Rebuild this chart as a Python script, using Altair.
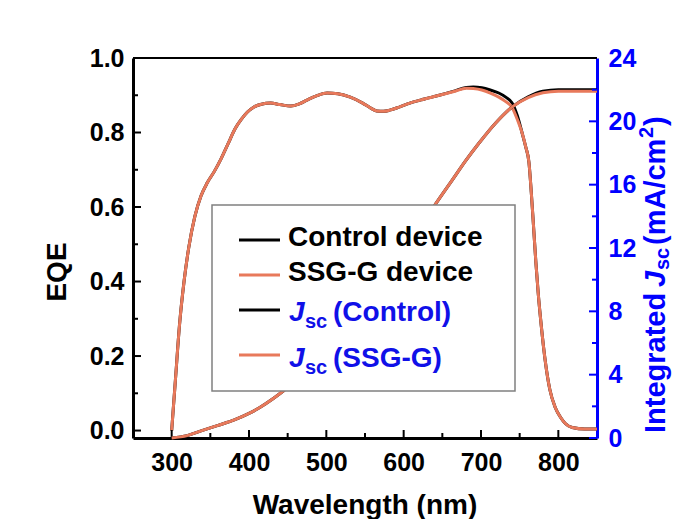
import altair as alt
import pandas as pd

FONT = "Liberation Sans"
ORANGE = "#E8795B"
BLUE = "#0000FF"
TBLUE = "#1010E8"
W, H = 464, 380

# ---- EQE data (left axis) ----
wl_eqe = [300, 305, 310, 316, 322, 330, 338, 346, 355, 364, 373, 382, 390, 398, 406,
          416, 428, 440, 454, 465, 475, 488, 501, 515, 531, 547, 557, 565, 574, 582,
          595, 608, 627, 646, 665, 681, 690, 701, 712, 723, 732, 740, 747, 753, 758,
          762, 765, 768, 771, 774, 778, 783, 789, 796, 803, 809, 818, 834, 850]
eqe_ssg = [0.0, 0.14, 0.28, 0.40, 0.49, 0.575, 0.63, 0.665, 0.695, 0.73, 0.77, 0.81, 0.835, 0.855, 0.868,
           0.876, 0.879, 0.875, 0.871, 0.877, 0.887, 0.899, 0.906, 0.904, 0.895, 0.879, 0.866, 0.858, 0.857, 0.860,
           0.869, 0.879, 0.890, 0.900, 0.910, 0.919, 0.918, 0.914, 0.906, 0.895, 0.883, 0.868, 0.835, 0.800, 0.760,
           0.720, 0.640, 0.546, 0.450, 0.368, 0.280, 0.188, 0.110, 0.062, 0.035, 0.019, 0.008, 0.004, 0.004]
eqe_ctrl = [0.0, 0.14, 0.28, 0.40, 0.49, 0.575, 0.63, 0.665, 0.695, 0.73, 0.77, 0.81, 0.835, 0.855, 0.868,
            0.876, 0.879, 0.875, 0.871, 0.877, 0.887, 0.899, 0.906, 0.904, 0.895, 0.879, 0.866, 0.858, 0.857, 0.860,
            0.869, 0.879, 0.890, 0.900, 0.911, 0.921, 0.922, 0.920, 0.914, 0.906, 0.895, 0.880, 0.845, 0.800, 0.760,
            0.720, 0.640, 0.546, 0.450, 0.368, 0.280, 0.188, 0.110, 0.062, 0.035, 0.019, 0.008, 0.004, 0.004]

# ---- Integrated Jsc data (right axis) ----
wl_jsc = [300, 320, 338, 360, 381, 400, 415, 430, 445, 470, 500, 530, 560, 590, 620,
          642, 663, 680, 697, 719, 740, 761, 780, 800, 825, 850]
jsc_ssg = [0.0, 0.15, 0.45, 0.8, 1.14, 1.55, 1.96, 2.45, 3.0, 4.3, 6.0, 7.8, 9.6, 11.4, 13.3,
           14.84, 16.3, 17.5, 18.6, 19.9, 20.9, 21.5, 21.8, 21.9, 21.9, 21.9]
jsc_ctrl = [0.0, 0.15, 0.45, 0.8, 1.14, 1.55, 1.96, 2.45, 3.0, 4.3, 6.0, 7.8, 9.6, 11.4, 13.3,
            14.84, 16.3, 17.5, 18.6, 19.9, 20.9, 21.55, 21.9, 22.0, 22.0, 22.0]

x_major = [300, 400, 500, 600, 700, 800]
x_minor = [350, 450, 550, 650, 750]
eqe_major = [0.0, 0.2, 0.4, 0.6, 0.8, 1.0]
eqe_minor = [0.1, 0.3, 0.5, 0.7, 0.9]
j_major = [0, 4, 8, 12, 16, 20, 24]
j_minor = [2, 6, 10, 14, 18, 22]

xscale = alt.Scale(domain=[250, 850], nice=False, zero=False)
ylscale = alt.Scale(domain=[-0.02, 1.0], nice=False, zero=False)
yrscale = alt.Scale(domain=[0, 24], nice=False, zero=False)

lab = dict(labelFont=FONT, labelFontSize=25, labelFontWeight="bold", labelFlush=False,
           labelOverlap=False, labelBound=False, ticks=False, tickSize=0, grid=False, title=None,
           domainWidth=3)
x_axis = alt.Axis(values=x_major, labelColor="black", domainColor="black", labelPadding=12, **lab)
yl_axis = alt.Axis(values=eqe_major, format=".1f", labelColor="black", domainColor="black",
                   labelPadding=9, **lab)
yr_axis = alt.Axis(values=j_major, orient="right", labelColor=BLUE, domainColor=BLUE,
                   labelPadding=11, **lab)

def eqe_line(vals, color):
    df = pd.DataFrame({"wl": wl_eqe, "eqe": vals})
    return alt.Chart(df).mark_line(color=color, strokeWidth=3, interpolate="monotone").encode(
        x=alt.X("wl:Q", scale=xscale, axis=x_axis),
        y=alt.Y("eqe:Q", scale=ylscale, axis=yl_axis))

def jsc_line(vals, color):
    df = pd.DataFrame({"wl": wl_jsc, "j": vals})
    return alt.Chart(df).mark_line(color=color, strokeWidth=3, interpolate="monotone").encode(
        x=alt.X("wl:Q", scale=xscale, axis=x_axis),
        y=alt.Y("j:Q", scale=yrscale, axis=yr_axis))

def yticks(vals, scale, axis, x0, x1, color):
    return alt.Chart(pd.DataFrame({"v": vals})).mark_rule(color=color, strokeWidth=2).encode(
        y=alt.Y("v:Q", scale=scale, axis=axis), x=alt.value(x0), x2=alt.value(x1))

def xticks(vals, length):
    return alt.Chart(pd.DataFrame({"v": vals})).mark_rule(color="black", strokeWidth=2).encode(
        x=alt.X("v:Q", scale=xscale, axis=x_axis), y=alt.value(H), y2=alt.value(H - length))

left = alt.layer(
    eqe_line(eqe_ctrl, "black"),
    eqe_line(eqe_ssg, ORANGE),
    yticks(eqe_major, ylscale, yl_axis, 0, 8, "black"),
    yticks(eqe_minor, ylscale, yl_axis, 0, 5, "black"),
    xticks(x_major, 8),
    xticks(x_minor, 5),
)
right = alt.layer(
    jsc_line(jsc_ctrl, "black"),
    jsc_line(jsc_ssg, ORANGE),
    yticks(j_major, yrscale, yr_axis, W, W - 8, BLUE),
    yticks(j_minor, yrscale, yr_axis, W, W - 5, BLUE),
)

ANN = pd.DataFrame({"k": [0]})

def txt(s, x, y, size=28, color="black", italic=False, angle=0, align="left", baseline="alphabetic"):
    kw = dict(text=s, font=FONT, fontSize=size, fontWeight="bold", color=color,
              align=align, baseline=baseline)
    if italic:
        kw["fontStyle"] = "italic"
    if angle:
        kw["angle"] = angle
    return alt.Chart(ANN).mark_text(**kw).encode(x=alt.value(x), y=alt.value(y))

def hline(x0, x1, y, color, width=3):
    return alt.Chart(ANN).mark_rule(color=color, strokeWidth=width).encode(
        x=alt.value(x0), x2=alt.value(x1), y=alt.value(y))

TX = 532  # baseline of the rotated right-axis title
ann = [
    hline(0, W, 0, "black", 2),
    alt.Chart(ANN).mark_rect(fill="white", stroke="#808080", strokeWidth=1.5).encode(
        x=alt.value(79), x2=alt.value(382), y=alt.value(147), y2=alt.value(333)),
    hline(106, 147, 182, "black"),
    hline(106, 147, 217, ORANGE),
    hline(106, 147, 252, "black"),
    hline(106, 147, 297, ORANGE),
    txt("Control device", 155, 188),
    txt("SSG-G device", 155, 223),
    txt("J", 156, 263, color=TBLUE, italic=True),
    txt("sc", 172, 270, size=20, color=TBLUE),
    txt("(Control)", 200, 263, color=TBLUE),
    txt("J", 156, 309, color=TBLUE, italic=True),
    txt("sc", 172, 316, size=20, color=TBLUE),
    txt("(SSG-G)", 200, 309, color=TBLUE),
    # axis titles
    txt("EQE", -75, 214, angle=270, align="center", baseline="middle"),
    txt("Wavelength (nm)", 232, 456, align="center"),
    txt("Integrated", TX, 375, size=29, color=BLUE, angle=270),
    txt("J", TX, 229, size=29, color=BLUE, angle=270, italic=True),
    txt("sc", TX + 4, 212, size=20, color=BLUE, angle=270),
    txt("(mA/cm", TX, 187, size=29, color=BLUE, angle=270),
    txt("2", TX - 12, 80, size=20, color=BLUE, angle=270),
    txt(")", TX, 68, size=29, color=BLUE, angle=270),
]
annot = alt.layer(*ann)

chart = alt.layer(left, right, annot).resolve_scale(y="independent").properties(
    width=W, height=H,
    padding={"left": 125, "top": 50, "right": 75, "bottom": 81},
    autosize=alt.AutoSizeParams(type="none"),
    background="white",
).configure_view(stroke=None)

chart.save("out.html", embed_options={"renderer": "svg", "actions": False})
